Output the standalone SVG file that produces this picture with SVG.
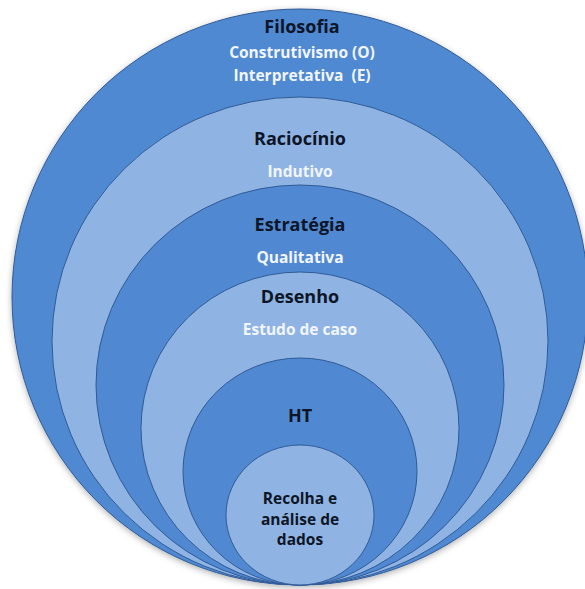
<svg xmlns="http://www.w3.org/2000/svg" width="585" height="589" viewBox="0 0 585 589">
  <defs>
    <filter id="sh" x="-10%" y="-10%" width="120%" height="120%">
      <feDropShadow dx="0" dy="2" stdDeviation="3" flood-color="#000" flood-opacity="0.3"/>
    </filter>
  </defs>
  <style>
    .dark { fill: #5089d2; stroke: #2f5a96; stroke-width: 1; }
    .light { fill: #8fb4e3; stroke: #2f5a96; stroke-width: 1; }
    text { font-family: "Open Sans", Lato, sans-serif; font-weight: 700; text-anchor: middle; font-variant-ligatures: none; }
    .h { font-size: 18px; fill: #0d1526; }
    .s { font-size: 15.5px; fill: #f2f6fc; }
    .r { font-size: 15.5px; fill: #0d1526; }
  </style>
  <rect width="585" height="589" fill="#ffffff"/>
  <g id="filosofia">
    <ellipse class="dark" cx="300" cy="297" rx="288" ry="288" filter="url(#sh)"/>
    <text class="h" x="302" y="33">Filosofia</text>
    <text class="s" x="302" y="58">Construtivismo (O)</text>
    <text class="s" x="302" y="81" xml:space="preserve">Interpretativa  (E)</text>
  </g>
  <g id="raciocinio">
    <ellipse class="light" cx="300" cy="341" rx="248" ry="244"/>
    <text class="h" x="300" y="145">Raciocínio</text>
    <text class="s" x="300" y="177">Indutivo</text>
  </g>
  <g id="estrategia">
    <ellipse class="dark" cx="300" cy="385" rx="204" ry="200"/>
    <text class="h" x="300" y="231">Estratégia</text>
    <text class="s" x="300" y="263">Qualitativa</text>
  </g>
  <g id="desenho">
    <ellipse class="light" cx="300" cy="428.5" rx="159" ry="156.5"/>
    <text class="h" x="300" y="303">Desenho</text>
    <text class="s" x="300" y="335">Estudo de caso</text>
  </g>
  <g id="ht">
    <ellipse class="dark" cx="300" cy="471.5" rx="117" ry="113.5"/>
    <text class="h" x="300" y="422">HT</text>
  </g>
  <g id="recolha">
    <ellipse class="light" cx="300" cy="515" rx="74" ry="70"/>
    <text class="r" x="300" y="504">Recolha e</text>
    <text class="r" x="300" y="525">análise de</text>
    <text class="r" x="300" y="545">dados</text>
  </g>
  <g id="connectors"/>
</svg>
